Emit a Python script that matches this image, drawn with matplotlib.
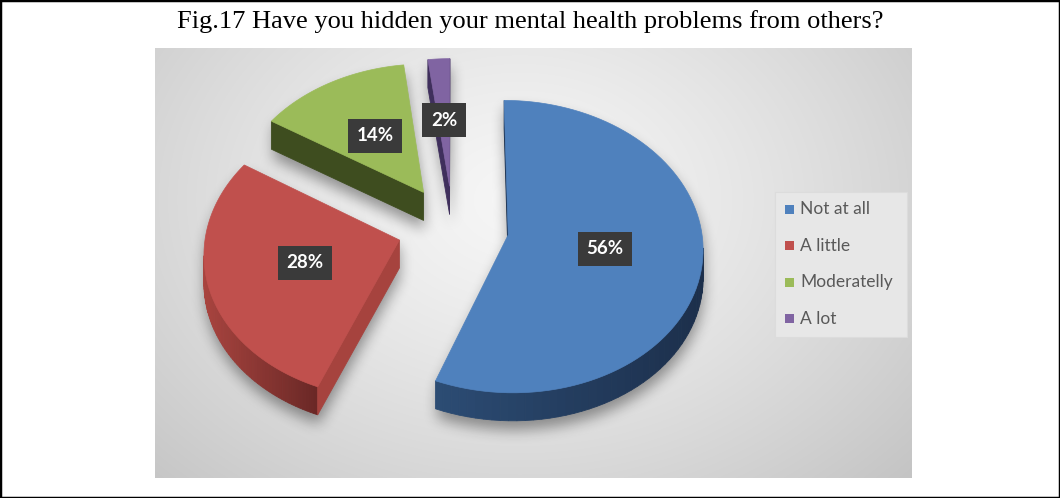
import numpy as np
import matplotlib.pyplot as plt
from matplotlib.patches import Polygon, Rectangle
from matplotlib.path import Path
from matplotlib.colors import to_rgb

title = "Fig.17 Have you hidden your mental health problems from others?"
answers = ["Not at all", "A little", "Moderatelly", "A lot"]
shares = [56, 28, 14, 2]
top_colors = ["#4f81bd", "#c0504d", "#9bbb59", "#8064a2"]
# outer wall gradient (left end, right end) and colour of the cut faces
wall_left = ["#2c4c74", "#a9443f", "#4a5c25", "#4a3668"]
wall_right = ["#1c2f4b", "#6a2826", "#3e4d1f", "#3f2f5c"]
cut_colors = ["#1f3554", "#a6433e", "#3e4d1f", "#3f2f5c"]

W, H = 1060, 498
fig = plt.figure(figsize=(W / 100, H / 100), dpi=100)
ax = fig.add_axes([0, 0, 1, 1])
ax.set_xlim(0, W)
ax.set_ylim(H, 0)
ax.axis('off')

# plot area with a soft radial grey fill
px0, px1, py0, py1 = 155, 912, 48, 478
gx, gy = np.meshgrid(np.arange(px0, px1) + 0.5, np.arange(py0, py1) + 0.5)
r = np.sqrt(((gx - 520) / 500) ** 2 + ((gy - 200) / 380) ** 2)
shade = np.clip(0.965 - 0.18 * r ** 1.3, 0, 1)
ax.imshow(np.dstack([shade] * 3), extent=(px0, px1, py1, py0), aspect='auto', zorder=0)

# pie geometry: unit disc tilted away from the viewer, mild perspective
cx, cy = 453, 227
rx, ry = 193, 144
persp = 0.08
explode = 0.29
depth = 28


def project(u, v):
    g = 1.0 / (1.0 + persp * v)
    return np.column_stack([cx + u * rx * g, cy - v * ry * g])


slices = []
start = 90.0
for i, v in enumerate(shares):
    t_hi = start
    t_lo = start - v * 3.6
    start = t_lo
    mid = np.radians((t_lo + t_hi) / 2)
    au, av = explode * np.cos(mid), explode * np.sin(mid)
    ts = np.radians(np.linspace(t_lo, t_hi, 90))
    u = np.concatenate([[au], au + np.cos(ts)])
    w = np.concatenate([[av], av + np.sin(ts)])
    poly = project(u, w)
    label_xy = project(np.array([au + 0.5 * np.cos(mid)]), np.array([av + 0.5 * np.sin(mid)]))[0]
    slices.append((poly, label_xy))

# drop shadow: rasterise the solid slices, blur and lay under the pie
xs, ys = np.meshgrid(np.arange(W) + 0.5, np.arange(H) + 0.5)
pts = np.column_stack([xs.ravel(), ys.ravel()])
mask = np.zeros(W * H, dtype=bool)
for poly, _ in slices:
    for k in range(0, depth + 1, 4):
        mask |= Path(poly + [1, k + 9]).contains_points(pts)
mask = mask.reshape(H, W).astype(float)


def box_blur(a, rad):
    n = 2 * rad + 1
    c = np.cumsum(np.pad(a, [(rad + 1, rad), (0, 0)], mode='edge'), axis=0)
    a = (c[n:] - c[:-n]) / n
    c = np.cumsum(np.pad(a, [(0, 0), (rad + 1, rad)], mode='edge'), axis=1)
    return (c[:, n:] - c[:, :-n]) / n


for _ in range(3):
    mask = box_blur(mask, 6)
shadow = np.zeros((H, W, 4))
shadow[..., 3] = mask * 0.38
ax.imshow(shadow, extent=(0, W, H, 0), aspect='auto', zorder=1)
ax.set_xlim(0, W)
ax.set_ylim(H, 0)

# walls facing the viewer, then the top faces
for i, (poly, label_xy) in enumerate(slices):
    closed = np.vstack([poly, poly[:1]])
    arc_x = poly[1:, 0]
    x_min, x_max = arc_x.min(), arc_x.max()
    cl, cr = np.array(to_rgb(wall_left[i])), np.array(to_rgb(wall_right[i]))
    for j in range(len(closed) - 1):
        p, q = closed[j], closed[j + 1]
        if q[0] <= p[0] + 1e-9:
            continue
        quad = [p, q, q + [0, depth], p + [0, depth]]
        if j == 0 or j == len(closed) - 2:
            col = cut_colors[i]
        else:
            s = ((p[0] + q[0]) / 2 - x_min) / max(x_max - x_min, 1)
            col = cl * (1 - s) + cr * s
        ax.add_patch(Polygon(quad, closed=True, fc=col, ec=col, lw=0.6, zorder=3))
    ax.add_patch(Polygon(poly, closed=True, fc=top_colors[i], ec=top_colors[i], lw=0.5, zorder=4))

    ax.text(label_xy[0], label_xy[1], f"{shares[i]}%", ha='center', va='center', color='white',
            fontsize=13.5, fontweight='bold', family='Lato', zorder=6,
            bbox=dict(boxstyle='square,pad=0.45', fc='#3a3a3a', ec='none'))

# legend
ax.add_patch(Rectangle((775, 192), 132, 145, fc='#e7e7e7', ec='#dcdcdc', lw=0.8, zorder=2))
for i, name in enumerate(answers):
    yy = 209 + i * 36.5
    ax.add_patch(Rectangle((785, yy - 4.5), 9, 9, fc=top_colors[i], ec='none', zorder=3))
    ax.text(800, yy, name, ha='left', va='center', fontsize=12.5, color='#595959',
            family='Lato', zorder=3)

ax.text(W / 2, 22, title, ha='center', va='center', fontsize=19,
        family='Liberation Serif', color='black')

fig.patches.append(Rectangle((0, 0), 1, 1, transform=fig.transFigure, fill=False,
                             ec='black', lw=2.5))

fig.savefig('out.png', dpi=100)
